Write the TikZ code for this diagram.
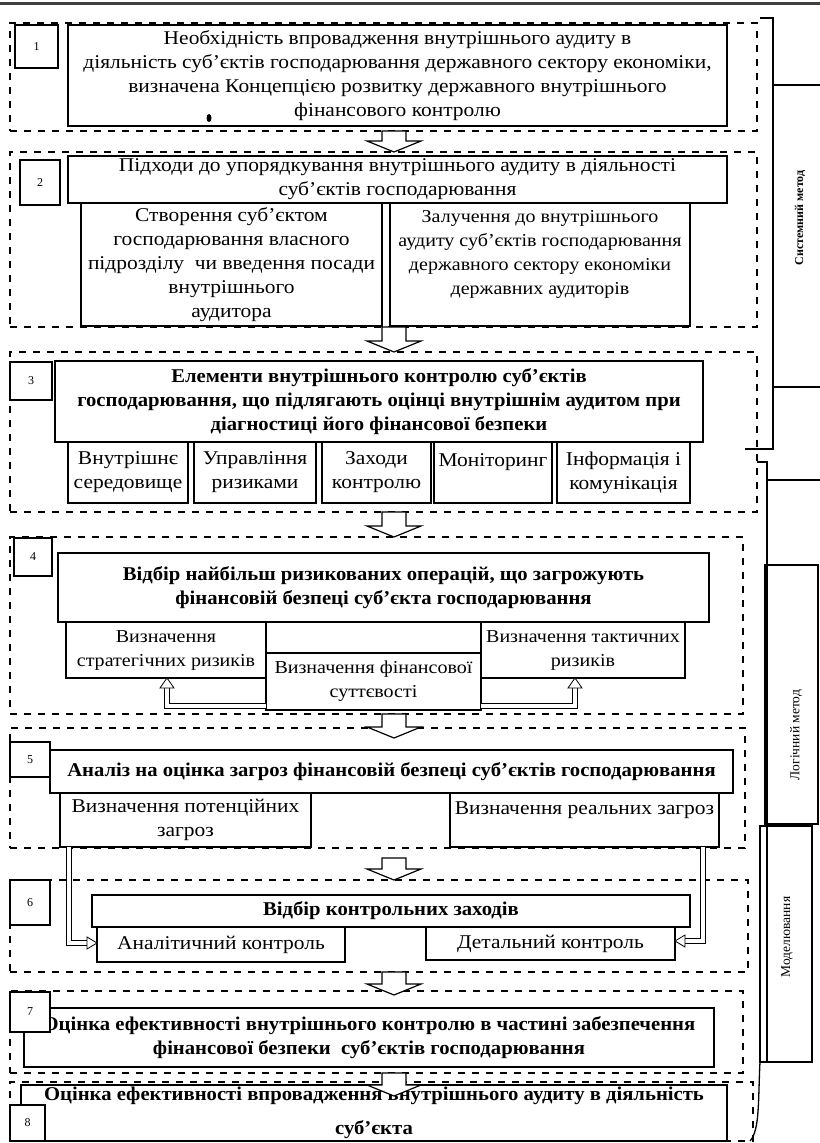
\documentclass[tikz,border=0pt]{standalone}
\usepackage{fontspec}
\setmainfont{Liberation Serif}
\newfontfamily\regf{Liberation Serif}[FakeStretch=1.1]
\newfontfamily\boldf{Liberation Serif}[FakeStretch=1.06]
\usetikzlibrary{calc}
\newcommand\mkbox[7]{\node[#1,minimum width={(#4-#2)*1bp},minimum height={(#5-#3)*1bp}] (#6) at (#2,#3) {#7};}
\begin{document}
\begin{tikzpicture}[x=1bp,y=-1bp,
  base/.style={inner sep=0pt, outer sep=0pt, anchor=north west, align=center},
  sect/.style={base, draw, line width=1.6bp, dash pattern=on 7bp off 7bp},
  box/.style={base, draw, line width=1.3bp, font=\regf\fontsize{19.5bp}{24bp}\selectfont},
  sbox/.style={box, font=\regf\fontsize{18.2bp}{24bp}\selectfont},
  bbox/.style={box, font=\boldf\bfseries\fontsize{19.5bp}{24bp}\selectfont},
  numbox/.style={base, draw, line width=1.3bp, fill=white, font=\fontsize{12bp}{14bp}\selectfont},
  sidebox/.style={base, draw, line width=1.3bp},
  sidetext/.style={rotate=90, inner sep=0pt},
  side/.style={draw, line width=1.3bp},
  bigarrow/.style={draw, fill=white, line width=1.2bp, to path={let \p1=(\tikztostart), \p2=(\tikztotarget) in (\x1-12bp,\y1) -- (\x1+12bp,\y1) -- (\x1+12bp,\y2+11bp) -- (\x1+27bp,\y2+11bp) -- (\x1,\y2) -- (\x1-27bp,\y2+11bp) -- (\x1-12bp,\y2+11bp) -- cycle}},
  dbl/.style={double, double distance=4bp, line width=0.8bp},
  hhead/.style={draw, fill=white, line width=0.8bp},
]
\useasboundingbox (0,0) rectangle (820,1143);
\draw[line width=3bp, black!75] (0,3) -- (820,3);

% section frames
\mkbox{sect}{10}{23}{757}{131}{s1}{}
\mkbox{sect}{10}{152}{757}{327}{s2}{}
\mkbox{sect}{10}{352}{757}{512}{s3}{}
\mkbox{sect}{10}{537}{743}{714}{s4}{}
\mkbox{sect}{10}{728}{745}{848}{s5}{}
\mkbox{sect}{10}{880}{748}{972}{s6}{}
\mkbox{sect}{10}{991}{743}{1073}{s7}{}
\mkbox{sect}{10}{1082}{753}{1141}{s8}{}

% section 1
\mkbox{box}{68}{25}{727}{126}{b1}{Необхідність впровадження внутрішнього аудиту в\\діяльність суб’єктів господарювання державного сектору економіки,\\визначена Концепцією розвитку державного внутрішнього\\фінансового контролю}
\mkbox{numbox}{15}{25}{58}{68}{n1}{1}
\fill (209,118) ellipse (2.5 and 4);

% section 2
\mkbox{box}{68}{156}{727}{203}{b2}{Підходи до упорядкування внутрішнього аудиту в діяльності\\суб’єктів господарювання}
\mkbox{numbox}{20}{160}{60}{205}{n2}{2}
\mkbox{box}{81}{203}{382}{326}{b2l}{Створення суб’єктом\\господарювання власного\\підрозділу\ \ чи введення посади\\внутрішнього\\аудитора}
\mkbox{sbox}{390}{203}{690}{326}{b2r}{Залучення до внутрішнього\\аудиту суб’єктів господарювання\\державного сектору економіки\\державних аудиторів\\\mbox{}}

% section 3
\mkbox{bbox}{55}{361}{703}{442}{b3}{Елементи внутрішнього контролю суб’єктів\\господарювання, що підлягають оцінці внутрішнім аудитом при\\діагностиці його фінансової безпеки}
\mkbox{numbox}{10}{362}{52}{400}{n3}{3}
\mkbox{box}{68}{442}{188}{503}{e1}{Внутрішнє\\середовище}
\mkbox{box}{194}{442}{316}{503}{e2}{Управління\\ризиками}
\mkbox{box}{322}{442}{431}{503}{e3}{Заходи\\контролю}
\mkbox{box}{434}{442}{552}{503}{e4}{Моніторинг\\\mbox{}}
\mkbox{box}{557}{442}{690}{503}{e5}{Інформація і\\комунікація}

% section 4
\mkbox{bbox}{58}{553}{709}{622}{b4}{Відбір найбільш ризикованих операцій, що загрожують\\фінансовій безпеці суб’єкта господарювання}
\mkbox{numbox}{14}{538}{52}{576}{n4}{4}
\mkbox{sbox}{66}{622}{266}{678}{r4l}{Визначення\\стратегічних ризиків}
\mkbox{sbox}{481}{622}{685}{678}{r4r}{Визначення тактичних\\ризиків}
\mkbox{sbox}{266}{653}{481}{710}{r4m}{Визначення фінансової\\суттєвості}

% section 5
\mkbox{bbox}{50}{750}{733}{793}{b5}{Аналіз на оцінка загроз фінансовій безпеці суб’єктів господарювання}
\mkbox{numbox}{10}{742}{50}{777}{n5}{5}
\mkbox{box}{60}{793}{311}{847}{r5l}{Визначення потенційних\\загроз}
\mkbox{box}{450}{793}{719}{847}{r5r}{Визначення реальних загроз\\\mbox{}}

% section 6
\mkbox{bbox}{92}{895}{690}{927}{b6}{Відбір контрольних заходів}
\mkbox{numbox}{10}{880}{50}{925}{n6}{6}
\mkbox{box}{97}{927}{345}{962}{c6l}{Аналітичний контроль}
\mkbox{box}{426}{927}{675}{960}{c6r}{Детальний контроль}

% section 7
\mkbox{bbox}{24}{1008}{714}{1067}{b7}{Оцінка ефективності внутрішнього контролю в частині забезпечення\\фінансової безпеки\ \ суб’єктів господарювання}
\mkbox{numbox}{10}{992}{50}{1032}{n7}{7}

% section 8
\mkbox{bbox}{21}{1085}{727}{1141}{b8}{Оцінка ефективності впровадження внутрішнього аудиту в діяльність\\[10bp]суб’єкта}
\mkbox{numbox}{10}{1105}{45}{1141}{n8}{8}

% block arrows
\coordinate (ax) at (394,0);
\draw[bigarrow] (s1.south -| ax) to (s2.north -| ax);
\draw[bigarrow] (s2.south -| ax) to (s3.north -| ax);
\draw[bigarrow] (s3.south -| ax) to (s4.north -| ax);
\draw[bigarrow] (s4.south -| ax) to ([yshift=-10bp]s5.north -| ax);
\draw[bigarrow] ([yshift=-10bp]s5.south -| ax) to (s6.north -| ax);
\draw[bigarrow] (s6.south -| ax) to ([yshift=-4bp]s7.north -| ax);
\draw[bigarrow] (s7.south -| ax) to ([yshift=-14bp]s8.north -| ax);

% double connectors section 4
\coordinate (l4) at (167,706);
\coordinate (r4) at (575,706);
\draw[dbl] (r4m.west |- l4) -- (l4) -- ([yshift=-10bp]l4 |- r4l.south);
\draw[hhead] (l4 |- r4l.south) -- ++(-7,10) -- ++(14,0) -- cycle;
\draw[dbl] (r4m.east |- r4) -- (r4) -- ([yshift=-10bp]r4 |- r4r.south);
\draw[hhead] (r4 |- r4r.south) -- ++(-7,10) -- ++(14,0) -- cycle;

% double connectors section 5 -> 6
\coordinate (l5) at (69,943);
\coordinate (r5) at (703,941);
\draw[dbl] (l5 |- r5l.south) -- (l5) -- ([xshift=-10bp]c6l.west |- l5);
\draw[hhead] (c6l.west |- l5) -- ++(-10,-6) -- ++(0,12) -- cycle;
\draw[dbl] (r5 |- r5r.south) -- (r5) -- ([xshift=10bp]c6r.east |- r5);
\draw[hhead] (c6r.east |- r5) -- ++(10,-6) -- ++(0,12) -- cycle;

% side: systemic method
\draw[side] (760,18) -- (773,18) -- (773,449) -- (745,449);
\draw[side] (773,85) -- (820,85);
\draw[side] (773,387) -- (820,387);
\node[sidetext, font=\fontsize{12bp}{14bp}\selectfont\bfseries] (tsm) at (800,218) {Системний метод};

% side: logical method & modelling
\draw[side] (757,462) -- (767,462) -- (767,1062);
\draw[side] (767,480) -- (820,480);
\mkbox{sidebox}{765}{565}{818}{824}{lm}{}
\node[sidetext, font=\fontsize{13.5bp}{15bp}\selectfont] (tlm) at (796,735) {Логічний метод};
\mkbox{sidebox}{760}{826}{812}{1062}{md}{}
\node[sidetext, font=\fontsize{13.5bp}{15bp}\selectfont] (tmd) at (787,937) {Моделювання};
\draw[side] (760,1062) .. controls (758,1100) and (760,1130) .. (750,1141);
\end{tikzpicture}
\end{document}
